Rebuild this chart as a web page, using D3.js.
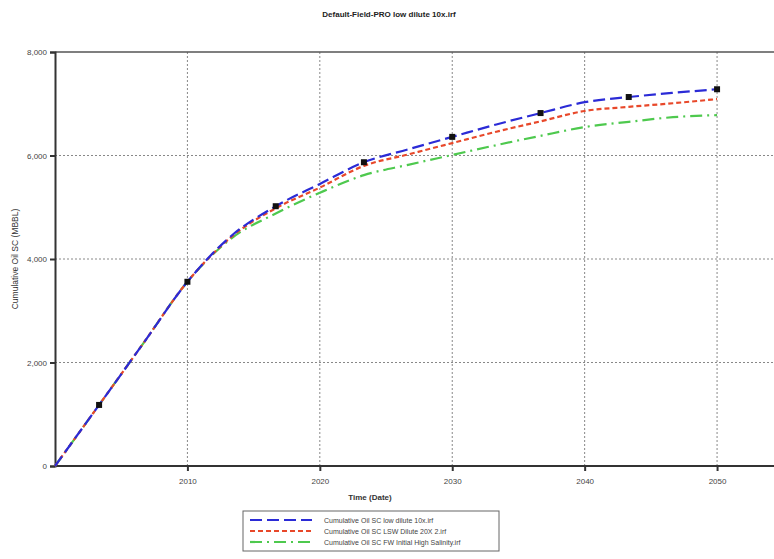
<!DOCTYPE html>
<html><head><meta charset="utf-8">
<script src="https://cdn.jsdelivr.net/npm/d3@7"></script>
<style>body{margin:0;background:#fff;} svg{display:block;font-family:"Liberation Sans",Arial,sans-serif;}</style>
</head><body>
<svg id="c" width="774" height="559"></svg>
<script>
const title = "Default-Field-PRO low dilute 10x.irf";
const xTitle = "Time (Date)";
const yTitle = "Cumulative Oil SC (MBBL)";
const years = [2000, 2003.33, 2006.67, 2010, 2013.33, 2016.67, 2020, 2023.33, 2026.67, 2030, 2033.33, 2036.67, 2040, 2043.33, 2046.67, 2050];
const lowDilute = [0, 1180, 2370, 3560, 4450, 5020, 5450, 5870, 6120, 6360, 6600, 6820, 7030, 7130, 7210, 7280];
const lswDilute = [0, 1180, 2370, 3560, 4430, 4980, 5380, 5800, 6020, 6240, 6460, 6660, 6860, 6940, 7010, 7090];
const fwHigh    = [0, 1180, 2370, 3560, 4400, 4880, 5280, 5620, 5820, 6010, 6200, 6380, 6550, 6650, 6740, 6780];
const markerYears = [2003.33, 2010, 2016.67, 2023.33, 2030, 2036.67, 2043.33, 2050];
const xTicks = [2010, 2020, 2030, 2040, 2050];
const yTicks = [0, 2000, 4000, 6000, 8000];
const seriesNames = ["Cumulative Oil SC low dilute 10x.irf", "Cumulative Oil SC LSW Dilute 20X 2.irf", "Cumulative Oil SC FW Initial High Salinity.irf"];
const seriesColors = ["#2b2bd6", "#e8482a", "#4ec94e"];
const seriesDash = ["12,5", "5,3", "12,5,2,5"];

const svg = d3.select("#c");
const x = d3.scaleLinear().domain([2000, 2054.3]).range([55, 774]);
const y = d3.scaleLinear().domain([0, 8000]).range([466, 52]);

// title
svg.append("text").attr("x", 389).attr("y", 17).attr("text-anchor", "middle")
  .attr("font-size", 8).attr("font-weight", "bold").attr("fill", "#222").text(title);

// grid
svg.append("g").selectAll("line").data(xTicks).join("line")
  .attr("x1", d => x(d)).attr("x2", d => x(d)).attr("y1", y(0)).attr("y2", y(8000))
  .attr("stroke", "#888").attr("stroke-width", 1).attr("stroke-dasharray", "2,2");
svg.append("g").selectAll("line").data(yTicks.filter(d => d > 0 && d < 8000)).join("line")
  .attr("x1", x(2000)).attr("x2", 774).attr("y1", d => y(d)).attr("y2", d => y(d))
  .attr("stroke", "#888").attr("stroke-width", 1).attr("stroke-dasharray", "2,2");

// top frame
svg.append("line").attr("x1", x(2000)).attr("x2", 774).attr("y1", y(8000)).attr("y2", y(8000))
  .attr("stroke", "#555").attr("stroke-width", 1.5);

// axes
const fmt = d3.format(",");
const yAxis = svg.append("g").attr("transform", `translate(${x(2000)},0)`)
  .call(d3.axisLeft(y).tickValues(yTicks).tickFormat(fmt).tickSize(5));
const xAxis = svg.append("g").attr("transform", `translate(0,${y(0)})`)
  .call(d3.axisBottom(x).tickValues(xTicks).tickFormat(d3.format("d")).tickSize(5));
[xAxis, yAxis].forEach(a => {
  a.select(".domain").attr("stroke", "#333").attr("stroke-width", 2);
  a.selectAll(".tick line").attr("stroke", "#333").attr("stroke-width", 2);
  a.selectAll("text").attr("font-size", 8).attr("fill", "#444").attr("font-family", "Liberation Sans, Arial, sans-serif");
});
xAxis.select(".domain").attr("d", `M${x(2000)},0H774`);
xAxis.selectAll(".tick text").attr("dy", "1.3em");

svg.append("text").attr("x", 370).attr("y", 500).attr("text-anchor", "middle")
  .attr("font-size", 8).attr("font-weight", "bold").attr("fill", "#333").text(xTitle);
svg.append("text").attr("transform", `translate(18,${(y(0)+y(8000))/2}) rotate(-90)`)
  .attr("text-anchor", "middle").attr("font-size", 8.5).attr("fill", "#333").text(yTitle);

// lines
const data = [lowDilute, lswDilute, fwHigh];
const line = d3.line().x((d, i) => x(years[i])).y(d => y(d)).curve(d3.curveMonotoneX);
const order = [2, 1, 0];
order.forEach(k => {
  svg.append("path").datum(data[k]).attr("d", line).attr("fill", "none")
    .attr("stroke", seriesColors[k]).attr("stroke-width", 2.2).attr("stroke-dasharray", seriesDash[k]);
});

// markers on first series
const interp = yr => { const i = years.findIndex(v => Math.abs(v - yr) < 0.01); return lowDilute[i]; };
svg.append("g").selectAll("rect").data(markerYears).join("rect")
  .attr("x", d => x(d) - 3).attr("y", d => y(interp(d)) - 3).attr("width", 6).attr("height", 6)
  .attr("fill", "#111");

// legend
const lg = svg.append("g");
lg.append("rect").attr("x", 243).attr("y", 511).attr("width", 256).attr("height", 40)
  .attr("fill", "#fff").attr("stroke", "#666").attr("stroke-width", 1);
seriesNames.forEach((n, i) => {
  const yy = 520 + i * 11;
  lg.append("line").attr("x1", 250).attr("x2", 312).attr("y1", yy).attr("y2", yy)
    .attr("stroke", seriesColors[i]).attr("stroke-width", 2.2).attr("stroke-dasharray", seriesDash[i]);
  lg.append("text").attr("x", 324).attr("y", yy + 2.5).attr("font-size", 7).attr("fill", "#444").text(n);
});
</script>
</body></html>
